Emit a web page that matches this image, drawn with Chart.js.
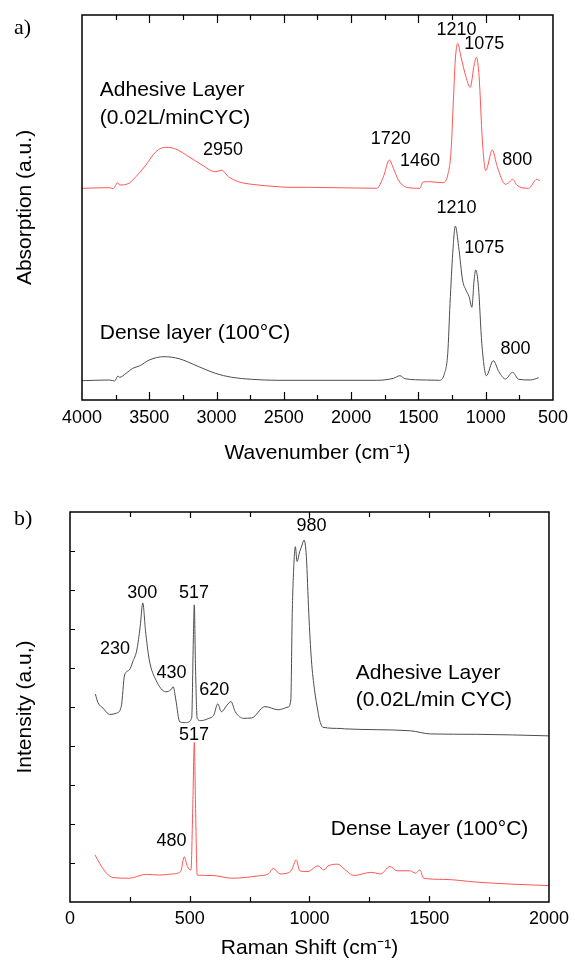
<!DOCTYPE html>
<html>
<head>
<meta charset="utf-8">
<script src="https://cdn.jsdelivr.net/npm/chart.js@4.4.1/dist/chart.umd.min.js"></script>
<style>
  body { margin: 0; background: #fff; }
  #wrap { position: relative; width: 575px; height: 969px; }
  canvas { position: absolute; left: 0; }
  .tag { position: absolute; left: 14px; font: 22px 'Liberation Serif', 'Times New Roman', serif; line-height: 1; color: #000; }
</style>
</head>
<body>
<div id="wrap">
  <canvas id="ftir" width="575" height="475" style="top:0"></canvas>
  <canvas id="raman" width="575" height="489" style="top:480px"></canvas>
  <div class="tag" style="top:16px">a)</div>
  <div class="tag" style="top:507px">b)</div>
</div>
<script>
'use strict';
//////////////// data, a) FTIR

let ftirAdhesiveWave = [4000, 3794, 3770, 3733, 3721, 3647, 3623, 3574, 3525, 3451, 3377, 3304, 3206, 3108, 3010, 2961, 2912, 2838, 2740, 2544, 2471, 2324, 1809, 1760, 1716, 1686, 1649, 1588, 1490, 1466, 1417, 1318, 1282, 1257, 1240, 1226, 1208, 1184, 1147, 1115, 1086, 1069, 1049, 1025, 1000, 951, 914, 853, 829, 800, 767, 682, 620, 596];
let ftirAdhesiveAbs = [211.7, 212.3, 211.3, 217.3, 215, 217, 220, 227, 235, 248.3, 252.7, 251, 243.3, 235, 228.3, 229.7, 223.3, 218.3, 215.7, 213.3, 212.7, 212.7, 211.7, 223.3, 240, 231.7, 220, 212.7, 211.7, 218, 218.3, 217.3, 225, 250, 300, 340, 356.7, 343.3, 323.3, 312.7, 335, 342.7, 323.3, 260, 229.3, 250, 233.3, 215.7, 217.3, 220.7, 214.7, 211.7, 220.7, 219];

let ftirDenseWave = [4000, 3794, 3757, 3733, 3720, 3672, 3623, 3574, 3500, 3390, 3279, 3132, 3010, 2887, 2740, 2544, 1809, 1686, 1637, 1600, 1441, 1343, 1306, 1282, 1265, 1245, 1226, 1201, 1172, 1147, 1123, 1103, 1086, 1074, 1054, 1029, 995, 944, 902, 853, 800, 755, 669, 606];
let ftirDenseAbs = [19.3, 20, 19, 24, 22.7, 26.7, 31.7, 34, 40, 43.3, 41.3, 33.3, 26.7, 22.7, 20.7, 19.7, 19.7, 21.7, 24.3, 21.3, 20, 19.7, 26.7, 46.7, 96.7, 146.7, 174, 153.3, 120, 110, 103.3, 92.7, 120, 130, 113.3, 56.7, 24.3, 39.3, 28.3, 21, 27.7, 20.7, 20, 22.3];

let ftirLabels = [
  ['Adhesive Layer', 3868, 310, 'left', 21],
  ['(0.02L/minCYC)', 3868, 282, 'left', 21],
  ['2950', 2952, 250, 'center', 18],
  ['1720', 1706, 261, 'center', 18],
  ['1460', 1489, 239, 'center', 18],
  ['1210', 1217, 370, 'center', 18],
  ['1075', 1011, 356, 'center', 18],
  ['800', 765, 240, 'center', 18],
  ['1210', 1217, 192, 'center', 18],
  ['1075', 1011, 152, 'center', 18],
  ['800', 779, 51, 'center', 18],
  ['Dense layer (100°C)', 3868, 67, 'left', 21]
];

//////////////// data, b) Raman

let ramanAdhesiveShift = [106, 117, 138, 166, 193, 214, 228, 248, 262, 279, 293, 304, 315, 331, 359, 400, 421, 431, 442, 458, 483, 508, 515, 519, 524, 531, 545, 580, 600, 617, 632, 656, 672, 690, 725, 759, 814, 870, 911, 922, 928, 935, 941, 948, 959, 969, 977, 987, 997, 1008, 1021, 1035, 1042, 1056, 1132, 1146, 1421, 1504, 1698, 1999];
let ramanAdhesiveInt = [5.33, 5.11, 4.97, 4.81, 4.84, 5.01, 5.82, 5.95, 6.16, 6.46, 7.06, 7.67, 6.97, 6.21, 5.69, 5.39, 5.44, 5.52, 5.18, 4.62, 4.6, 4.71, 6.72, 7.62, 6.03, 4.71, 4.65, 4.71, 4.79, 5.08, 4.88, 5.05, 5.14, 4.88, 4.71, 4.72, 5.01, 4.93, 5.0, 5.18, 7.4, 8.68, 9.11, 8.73, 8.98, 9.15, 9.28, 8.85, 7.4, 6.21, 5.44, 4.9, 4.67, 4.48, 4.45, 4.44, 4.39, 4.31, 4.3, 4.26];

let ramanDenseShift = [104, 124, 152, 179, 248, 318, 373, 428, 462, 477, 490, 505, 513, 519, 524, 531, 594, 676, 787, 828, 849, 877, 911, 925, 945, 959, 994, 1035, 1060, 1077, 1118, 1146, 1187, 1256, 1297, 1336, 1366, 1421, 1442, 1461, 1477, 1560, 1698, 1836, 1999];
let ramanDenseInt = [1.21, 0.99, 0.74, 0.63, 0.61, 0.71, 0.69, 0.72, 0.78, 1.16, 0.91, 0.82, 2.53, 4.09, 2.53, 0.69, 0.68, 0.61, 0.67, 0.72, 0.86, 0.72, 0.75, 0.82, 1.08, 0.8, 0.78, 0.93, 0.82, 0.92, 0.97, 0.84, 0.68, 0.76, 0.72, 0.91, 0.8, 0.8, 0.74, 0.82, 0.61, 0.58, 0.51, 0.46, 0.42];

let ramanLabels = [
  ['980', 1008, 9.64, 'center', 18],
  ['300', 302, 7.92, 'center', 18],
  ['517', 518, 7.92, 'center', 18],
  ['230', 188, 6.49, 'center', 18],
  ['430', 424, 5.87, 'center', 18],
  ['620', 602, 5.44, 'center', 18],
  ['517', 518, 4.28, 'center', 18],
  ['480', 424, 1.56, 'center', 18],
  ['Adhesive Layer', 1193, 5.87, 'left', 21],
  ['(0.02L/min CYC)', 1193, 5.18, 'left', 21],
  ['Dense Layer (100°C)', 1089, 1.87, 'left', 21]
];

let redLine = 'rgb(255, 85, 85)';
let greyLine = '#4d4d4d';

Chart.defaults.font.family = "'Liberation Sans', Arial, sans-serif";
Chart.defaults.color = '#000';

function toPoints(xs, ys) {
  return xs.map((x, i) => ({x: x, y: ys[i]}));
}

////////////////// box, inward ticks and peak labels
let framePlugin = {
  id: 'frame',
  afterDraw(chart, args, opts) {
    let ctx = chart.ctx;
    let a = chart.chartArea;
    let xs = chart.scales.x;
    let ys = chart.scales.y;
    ctx.save();
    ctx.strokeStyle = '#000';
    ctx.lineWidth = 1.5;
    ctx.strokeRect(a.left, a.top, a.right - a.left, a.bottom - a.top);
    ctx.lineWidth = 1.2;
    ctx.beginPath();
    for (let v = opts.xFrom; v <= opts.xTo; v += opts.xStep) {
      let px = Math.round(xs.getPixelForValue(v)) + 0.5;
      let len = (v % opts.xMajor === 0) ? opts.majorLen : opts.minorLen;
      ctx.moveTo(px, a.bottom); ctx.lineTo(px, a.bottom - len);
      ctx.moveTo(px, a.top); ctx.lineTo(px, a.top + len);
    }
    if (opts.yTicks) {
      for (let v = opts.yTicks[0]; v <= opts.yTicks[1]; v++) {
        let py = Math.round(ys.getPixelForValue(v)) + 0.5;
        ctx.moveTo(a.left, py); ctx.lineTo(a.left + opts.minorLen, py);
      }
    }
    ctx.stroke();

    ctx.fillStyle = '#000';
    ctx.textBaseline = 'middle';
    opts.labels.forEach(l => {
      ctx.font = l[4] + "px 'Liberation Sans', Arial, sans-serif";
      ctx.textAlign = l[3];
      ctx.fillText(l[0], xs.getPixelForValue(l[1]), ys.getPixelForValue(l[2]));
    });
    ctx.restore();
  }
};

function lineSet(xs, ys, color) {
  return {
    data: toPoints(xs, ys),
    borderColor: color,
    borderWidth: 1,
    pointRadius: 0,
    cubicInterpolationMode: 'monotone',
    fill: false
  };
}

function plainTick(value) {
  return String(value);
}

///////////////////// chart a
new Chart(document.getElementById('ftir').getContext('2d'), {
  type: 'line',
  data: {
    datasets: [
      lineSet(ftirAdhesiveWave, ftirAdhesiveAbs, redLine),
      lineSet(ftirDenseWave, ftirDenseAbs, greyLine)
    ]
  },
  plugins: [framePlugin],
  options: {
    responsive: false,
    animation: false,
    devicePixelRatio: 1,
    layout: { padding: { left: 0, right: 17, top: 15, bottom: 0 } },
    plugins: {
      legend: { display: false },
      tooltip: { enabled: false },
      frame: { xFrom: 750, xTo: 3750, xStep: 250, xMajor: 500, majorLen: 8, minorLen: 5, labels: ftirLabels }
    },
    scales: {
      x: {
        type: 'linear',
        reverse: true,
        min: 500,
        max: 4000,
        grid: { display: false, drawTicks: false },
        border: { display: false },
        ticks: { stepSize: 500, padding: 7, font: { size: 18 }, color: '#000', callback: plainTick },
        title: { display: true, text: 'Wavenumber (cm⁻¹)', font: { size: 21 }, padding: { top: 0, bottom: 9 } },
        afterFit(scale) { scale.height = 75; }
      },
      y: {
        min: 0,
        max: 385,
        grid: { display: false, drawTicks: false },
        border: { display: false },
        ticks: { display: false },
        title: { display: true, text: 'Absorption (a.u.)', font: { size: 21 }, padding: { top: 13, bottom: 0 } },
        afterFit(scale) { scale.width = 82; }
      }
    }
  }
});

///////////////////// chart b
new Chart(document.getElementById('raman').getContext('2d'), {
  type: 'line',
  data: {
    datasets: [
      lineSet(ramanAdhesiveShift, ramanAdhesiveInt, greyLine),
      lineSet(ramanDenseShift, ramanDenseInt, redLine)
    ]
  },
  plugins: [framePlugin],
  options: {
    responsive: false,
    animation: false,
    devicePixelRatio: 1,
    layout: { padding: { left: 0, right: 22, top: 32, bottom: 0 } },
    plugins: {
      legend: { display: false },
      tooltip: { enabled: false },
      frame: { xFrom: 250, xTo: 1750, xStep: 250, xMajor: 500, majorLen: 6, minorLen: 5, yTicks: [1, 9], labels: ramanLabels }
    },
    scales: {
      x: {
        type: 'linear',
        min: 0,
        max: 2000,
        grid: { display: false, drawTicks: false },
        border: { display: false },
        ticks: { stepSize: 500, padding: 6, font: { size: 18 }, color: '#000', callback: plainTick },
        title: { display: true, text: 'Raman Shift (cm⁻¹)', font: { size: 21 }, padding: { top: 0, bottom: 8 } },
        afterFit(scale) { scale.height = 67; }
      },
      y: {
        min: 0,
        max: 10,
        grid: { display: false, drawTicks: false },
        border: { display: false },
        ticks: { display: false },
        title: { display: true, text: 'Intensity (a.u,)', font: { size: 21 }, padding: { top: 13, bottom: 0 } },
        afterFit(scale) { scale.width = 70; }
      }
    }
  }
});
</script>
</body>
</html>
